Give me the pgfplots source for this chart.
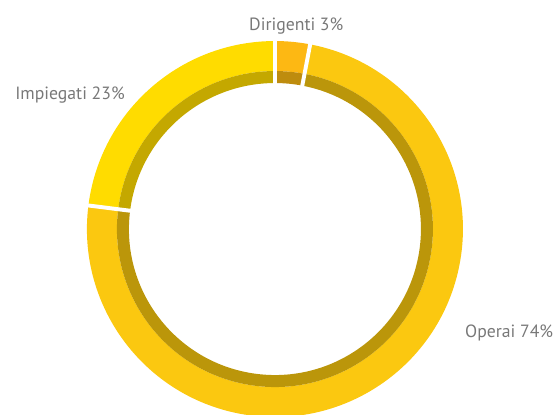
\documentclass[border=0pt]{standalone}
\usepackage{fontspec}
\setmainfont{PT Sans}
\usepackage{pgfplots}
\usepackage{pgfplotstable}
\pgfplotsset{compat=1.18}

\definecolor{dirOut}{RGB}{253,184,19}
\definecolor{dirIn}{RGB}{190,140,14}
\definecolor{opeOut}{RGB}{251,200,16}
\definecolor{opeIn}{RGB}{187,150,10}
\definecolor{impOut}{RGB}{255,220,0}
\definecolor{impIn}{RGB}{196,168,0}
\definecolor{labelgray}{RGB}{120,120,120}

% share of each group, in percent
\pgfplotstableread{
name share
Dirigenti 3
Operai 74
Impiegati 23
}\donut

\begin{document}
\begin{tikzpicture}
\pgfplotstablegetelem{0}{share}\of\donut \let\sA\pgfplotsretval
\pgfplotstablegetelem{1}{share}\of\donut \let\sB\pgfplotsretval
\pgfplotstablegetelem{2}{share}\of\donut \let\sC\pgfplotsretval
\pgfmathsetmacro\aA{90}
\pgfmathsetmacro\aB{\aA-3.6*\sA}
\pgfmathsetmacro\aC{\aB-3.6*\sB}
\pgfmathsetmacro\aD{\aC-3.6*\sC}

% ring piece: start angle, end angle, outer radius, inner radius, colour
\newcommand\ring[5]{%
  \fill[#5] ([shift={(#1:#3)}]axis cs:275,186)
    arc[start angle=#1, end angle=#2, radius=#3]
    -- ([shift={(#2:#4)}]axis cs:275,186)
    arc[start angle=#2, end angle=#1, radius=#4] -- cycle;}
\newcommand\gap[1]{%
  \draw[white, line width=2.8pt] ([shift={(#1:3.4cm)}]axis cs:275,186)
    -- ([shift={(#1:4.9cm)}]axis cs:275,186);}

\begin{axis}[
  hide axis,
  x=0.025cm, y=0.025cm,
  xmin=0, xmax=556, ymin=0, ymax=415,
  clip=true,
]
\ring{\aA}{\aB}{4.7cm}{3.95cm}{dirOut}
\ring{\aA}{\aB}{3.95cm}{3.65cm}{dirIn}
\ring{\aB}{\aC}{4.7cm}{3.95cm}{opeOut}
\ring{\aB}{\aC}{3.95cm}{3.65cm}{opeIn}
\ring{\aC}{\aD}{4.7cm}{3.95cm}{impOut}
\ring{\aC}{\aD}{3.95cm}{3.65cm}{impIn}
\gap{\aA}
\gap{\aB}
\gap{\aC}

\node[anchor=base west, inner sep=0pt, text=labelgray, font=\fontsize{12.6}{14}\selectfont]
  at (axis cs:249,385) {Dirigenti 3\%};
\node[anchor=base west, inner sep=0pt, text=labelgray, font=\fontsize{12.6}{14}\selectfont]
  at (axis cs:15,316) {Impiegati 23\%};
\node[anchor=base west, inner sep=0pt, text=labelgray, font=\fontsize{12.6}{14}\selectfont]
  at (axis cs:465,78) {Operai 74\%};
\end{axis}
\pgfresetboundingbox
\path (0,0) rectangle (13.9cm,10.375cm);
\end{tikzpicture}
\end{document}
